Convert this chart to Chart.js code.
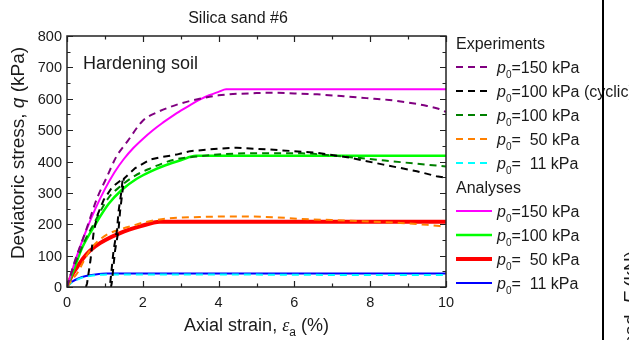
<!DOCTYPE html>
<html>
<head>
<meta charset="utf-8">
<script src="https://cdn.jsdelivr.net/npm/chart.js@4.4.0/dist/chart.umd.min.js"></script>
<style>
  html, body { margin: 0; padding: 0; background: #fff; }
  canvas { display: block; }
</style>
</head>
<body>
<canvas id="myChart" width="629" height="340"></canvas>
<script>
// axis ticks
const xTicks = [0, 2, 4, 6, 8, 10];
const yTicks = [0, 100, 200, 300, 400, 500, 600, 700, 800];

// experiments (strain %, q kPa)
const strainExp150 = [0, 0.2, 0.5, 0.8, 1.05, 1.3, 1.6, 2.0, 2.4, 3.0, 3.5, 4.0, 5.0, 5.5, 6.0, 6.6, 7.3, 7.9, 8.5, 9.0, 9.5, 9.8, 10];
const qExp150 = [0, 80, 180, 285, 350, 415, 465, 530, 558, 585, 600, 611, 618, 619, 617, 614, 608, 602, 596, 588, 577, 568, 558];

const strainExp100c = [0.5, 0.53, 0.62, 0.7, 0.79, 0.97, 1.19, 1.47, 1.43, 1.36, 1.32, 1.23, 1.14, 1.12, 1.16, 1.18, 1.27, 1.36, 1.4, 1.46, 1.5, 1.8, 2.19, 2.45, 2.89, 3.25, 4.0, 4.48, 5.36, 6.59, 7.47, 8.35, 9.23, 9.75, 10];
const qExp100c = [0, 12, 86, 171, 225, 278, 318, 345, 300, 241, 182, 118, 12, 0, 0, 12, 118, 182, 241, 300, 345, 379, 406, 413, 422, 433, 441, 444, 438, 428, 412, 390, 369, 353, 348];

const strainExp100 = [0, 0.13, 0.3, 0.48, 0.7, 1.1, 1.4, 1.8, 2.2, 2.8, 3.5, 4.2, 4.8, 6.2, 7.0, 7.9, 8.8, 9.5, 10];
const qExp100 = [0, 50, 100, 150, 200, 285, 320, 355, 378, 405, 417, 424, 426, 426, 419, 409, 398, 390, 384];

const strainExp50 = [0, 0.15, 0.3, 0.45, 0.65, 0.92, 1.1, 1.36, 1.8, 2.0, 2.6, 3.5, 4.5, 5.5, 6.2, 7.5, 8.8, 9.5, 10];
const qExp50 = [0, 25, 50, 85, 125, 156, 170, 182, 198, 205, 218, 223, 225, 222, 217, 211, 204, 198, 192];

const strainExp11 = [0, 0.1, 0.3, 0.5, 0.8, 1.2, 3, 6, 8, 10];
const qExp11 = [0, 12, 25, 33, 38, 40, 40, 39, 38, 38];

// hardening soil analyses
const strainAna150 = [0, 0.25, 0.5, 0.75, 1.0, 1.25, 1.5, 1.75, 2.0, 2.25, 2.5, 2.75, 3.0, 3.25, 3.5, 3.75, 4.0, 4.2, 10];
const qAna150 = [0, 95, 178, 250, 312, 365, 408, 443, 472, 498, 521, 542, 562, 580, 597, 611, 622, 630, 630];

const strainAna100 = [0, 0.2, 0.4, 0.75, 1.1, 1.45, 1.84, 2.2, 2.6, 3.0, 3.4, 10];
const qAna100 = [0, 62, 125, 200, 265, 310, 345, 368, 388, 404, 418, 418];

const strainAna50 = [0, 0.12, 0.25, 0.43, 0.6, 0.87, 1.4, 1.95, 2.45, 10];
const qAna50 = [0, 35, 60, 92, 115, 140, 172, 194, 208, 208];

const strainAna11 = [0, 0.05, 0.15, 0.3, 0.5, 0.75, 1.05, 10];
const qAna11 = [0, 8, 18, 27, 35, 40, 43, 43];

// legend text after "p0"
const expLabels = ['=150 kPa', '=100 kPa (cyclic)', '=100 kPa', '=  50 kPa', '=  11 kPa'];
const anaLabels = ['=150 kPa', '=100 kPa', '=  50 kPa', '=  11 kPa'];

const SANS = '"Liberation Sans", Arial, sans-serif';
const SERIF = '"Liberation Serif", "Times New Roman", serif';
const INK = '#1a1a1a';

function pts(xs, ys) {
    return xs.map((x, i) => ({ x: x, y: ys[i] }));
}

function expSet(label, xs, ys, color, smooth) {
    return {
        label: label, data: pts(xs, ys), borderColor: color, borderWidth: 2,
        borderDash: [7, 5], pointRadius: 0, fill: false,
        cubicInterpolationMode: smooth ? 'monotone' : 'default', tension: 0
    };
}

function anaSet(label, xs, ys, color, width) {
    return {
        label: label, data: pts(xs, ys), borderColor: color, borderWidth: width,
        pointRadius: 0, fill: false, cubicInterpolationMode: 'monotone'
    };
}

// experiments first so they sit on top of the analyses
const expSets = [
    expSet(expLabels[0], strainExp150, qExp150, '#800080', true),
    expSet(expLabels[1], strainExp100c, qExp100c, '#000000', false),
    expSet(expLabels[2], strainExp100, qExp100, '#008000', true),
    expSet(expLabels[3], strainExp50, qExp50, '#ff8000', true),
    expSet(expLabels[4], strainExp11, qExp11, '#00ffff', true)
];
const anaSets = [
    anaSet(anaLabels[0], strainAna150, qAna150, '#ff00ff', 2),
    anaSet(anaLabels[1], strainAna100, qAna100, '#00ff00', 2.5),
    anaSet(anaLabels[2], strainAna50, qAna50, '#ff0000', 4),
    anaSet(anaLabels[3], strainAna11, qAna11, '#0000ff', 2)
];

// text made of runs with their own fonts (italics, subscripts)
function runsWidth(ctx, runs) {
    let w = 0;
    runs.forEach(r => { ctx.font = r.font; w += ctx.measureText(r.t).width; });
    return w;
}
function drawRuns(ctx, runs, x, y) {
    let cx = x;
    ctx.textAlign = 'left';
    runs.forEach(r => {
        ctx.font = r.font;
        ctx.fillText(r.t, cx, y + (r.dy || 0));
        cx += ctx.measureText(r.t).width;
    });
}
function pRuns(rest, size) {
    return [
        { t: 'p', font: 'italic ' + size + 'px ' + SANS },
        { t: '0', font: Math.round(size * 0.65) + 'px ' + SANS, dy: 5 },
        { t: rest, font: size + 'px ' + SANS }
    ];
}

const decor = {
    id: 'decor',
    afterDatasetsDraw(chart) {
        const ctx = chart.ctx, a = chart.chartArea;
        const xs = chart.scales.x, ys = chart.scales.y;
        ctx.save();
        ctx.fillStyle = INK;
        ctx.strokeStyle = '#222';
        ctx.textBaseline = 'alphabetic';

        // frame
        ctx.lineWidth = 1.5;
        ctx.strokeRect(a.left, a.top, a.right - a.left, a.bottom - a.top);

        // inward ticks
        ctx.lineWidth = 1.2;
        ctx.beginPath();
        for (let v = 0; v <= 10; v++) {
            const px = Math.round(xs.getPixelForValue(v)) + 0.5;
            const len = v % 2 === 0 ? 6 : 3.5;
            ctx.moveTo(px, a.bottom); ctx.lineTo(px, a.bottom - len);
            ctx.moveTo(px, a.top); ctx.lineTo(px, a.top + len);
        }
        for (let v = 0; v <= 800; v += 50) {
            const py = Math.round(ys.getPixelForValue(v)) + 0.5;
            const len = v % 100 === 0 ? 6 : 3.5;
            ctx.moveTo(a.left, py); ctx.lineTo(a.left + len, py);
            ctx.moveTo(a.right, py); ctx.lineTo(a.right - len, py);
        }
        ctx.stroke();

        // tick labels
        ctx.font = '14.5px ' + SANS;
        ctx.textAlign = 'center';
        xTicks.forEach(v => ctx.fillText(String(v), xs.getPixelForValue(v), a.bottom + 20));
        ctx.textAlign = 'right';
        yTicks.forEach(v => ctx.fillText(String(v), a.left - 5, ys.getPixelForValue(v) + 5));

        // titles
        ctx.font = '16px ' + SANS;
        ctx.textAlign = 'center';
        ctx.fillText('Silica sand #6', 238, 23);
        ctx.textAlign = 'left';
        ctx.font = '18px ' + SANS;
        ctx.fillText('Hardening soil', a.left + 16, 69);

        const xTitle = [
            { t: 'Axial strain, ', font: '18px ' + SANS },
            { t: '\u03b5', font: 'italic 18px ' + SERIF },
            { t: 'a', font: '12px ' + SANS, dy: 5 },
            { t: ' (%)', font: '18px ' + SANS }
        ];
        drawRuns(ctx, xTitle, (a.left + a.right) / 2 - runsWidth(ctx, xTitle) / 2, 331);

        const yTitle = [
            { t: 'Deviatoric stress, ', font: '19px ' + SANS },
            { t: 'q', font: 'italic 19px ' + SANS },
            { t: ' (kPa)', font: '19px ' + SANS }
        ];
        ctx.save();
        ctx.translate(24, 153);
        ctx.rotate(-Math.PI / 2);
        drawRuns(ctx, yTitle, -runsWidth(ctx, yTitle) / 2, 0);
        ctx.restore();

        // legend
        const lx0 = 456, lx1 = 492, tx = 497;
        const size = 16;
        let ry = 43;
        const row = 24;
        ctx.font = size + 'px ' + SANS;
        ctx.fillText('Experiments', lx0, ry + 5.5);
        const entry = (ds, y) => {
            ctx.save();
            ctx.strokeStyle = ds.borderColor;
            ctx.lineWidth = ds.borderWidth;
            ctx.setLineDash(ds.borderDash || []);
            ctx.beginPath();
            ctx.moveTo(lx0, y); ctx.lineTo(lx1, y);
            ctx.stroke();
            ctx.restore();
            drawRuns(ctx, pRuns(ds.label, size), tx, y + 5.5);
        };
        expSets.forEach(ds => { ry += row; entry(ds, ry); });
        ry += row;
        ctx.font = size + 'px ' + SANS;
        ctx.fillText('Analyses', lx0, ry + 5.5);
        anaSets.forEach(ds => { ry += row; entry(ds, ry); });

        // edge of the neighbouring panel
        ctx.fillStyle = '#000';
        ctx.fillRect(602, 0, 2, chart.height);
        ctx.fillStyle = INK;
        const sideTitle = [
            { t: 'Load, ', font: '19px ' + SANS },
            { t: 'F', font: 'italic 19px ' + SANS },
            { t: ' (kN)', font: '19px ' + SANS }
        ];
        ctx.save();
        ctx.translate(637, 251);
        ctx.rotate(-Math.PI / 2);
        drawRuns(ctx, sideTitle, -runsWidth(ctx, sideTitle), 0);
        ctx.restore();

        ctx.restore();
    }
};

const ctx = document.getElementById('myChart').getContext('2d');
const chart = new Chart(ctx, {
    type: 'line',
    data: { datasets: expSets.concat(anaSets) },
    options: {
        responsive: false,
        animation: false,
        devicePixelRatio: 1,
        layout: { padding: { left: 67, top: 36, right: 183, bottom: 53 } },
        plugins: { legend: { display: false }, tooltip: { enabled: false }, title: { display: false } },
        scales: {
            x: { type: 'linear', min: 0, max: 10, display: false },
            y: { type: 'linear', min: 0, max: 800, display: false }
        }
    },
    plugins: [decor]
});
</script>
</body>
</html>
